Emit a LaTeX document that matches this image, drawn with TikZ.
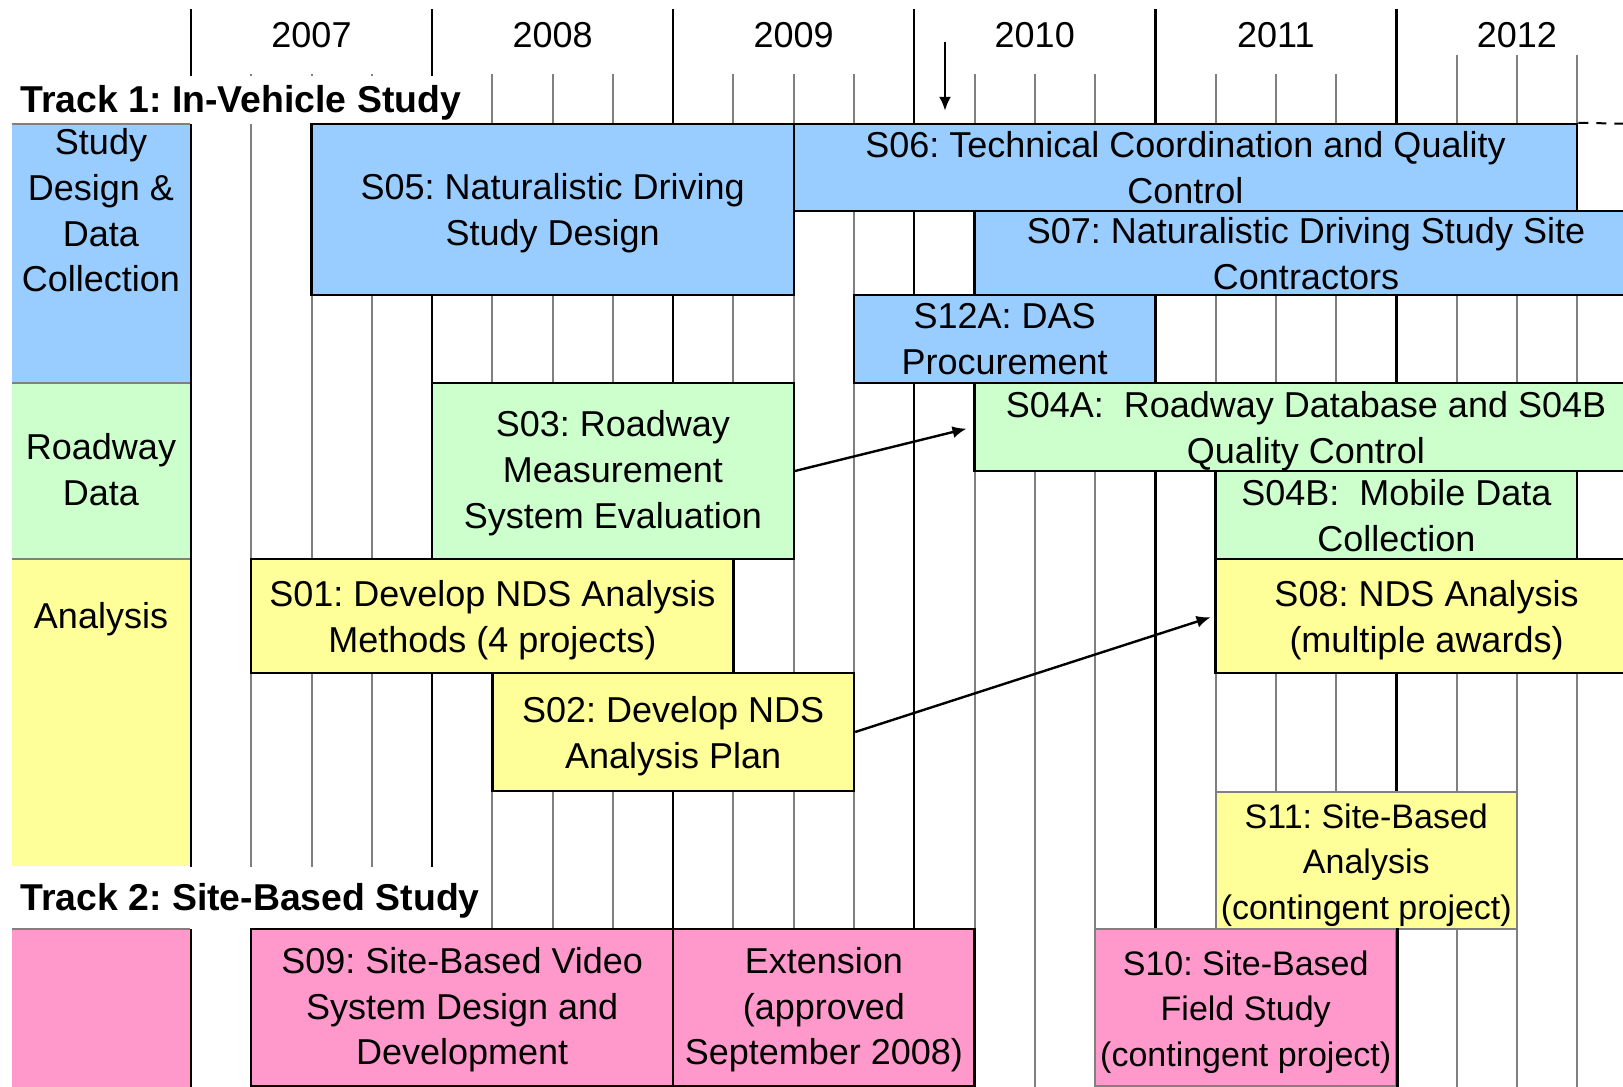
\documentclass[tikz,border=0pt]{standalone}
\usepackage{fontspec}
\setmainfont{Liberation Sans}
\usetikzlibrary{fit,arrows.meta}
\definecolor{studyblue}{RGB}{153,204,255}
\definecolor{roadgreen}{RGB}{204,255,204}
\definecolor{analysisyellow}{RGB}{255,255,153}
\definecolor{sitepink}{RGB}{255,153,204}
\newcommand{\qx}[1]{191+60.27*#1}
\begin{document}
\frenchspacing
\begin{tikzpicture}[x=0.5pt, y=-0.5pt, font=\fontsize{18}{22.9}\selectfont,
		year/.style = {line width=1.2pt},
		quarter/.style = {line width=1pt, black!50},
		task/.style = {draw, line width=1.2pt, inner sep=0pt},
		contingent/.style = {draw=black!50, line width=1pt, inner sep=0pt},
		cat/.style = {inner sep=0pt},
		label/.style = {inner sep=0pt, align=center},
		twolines/.style = {label, anchor=north, yshift=18pt},
		threelines/.style = {label, anchor=north, yshift=30.4pt},
		threesmall/.style = {label, anchor=north, yshift=28.6pt, font=\fontsize{17}{22.75}\selectfont},
		track/.style = {fill=white, anchor=base west, inner xsep=5pt, inner ysep=0pt, font=\fontsize{18.7}{22.9}\selectfont\bfseries},
		link/.style = {-{Latex[length=7pt, width=6pt]}, line width=1.2pt}]
	\useasboundingbox (0,0) rectangle (1623,1087);
	\clip (0,0) rectangle (1623,1087);
	\fill[white] (0,0) rectangle (1623,1087);
	\foreach \k in {1,2,3,5,6,7,9,10,11,13,14,15,17,18,19}
		\draw[quarter] ({\qx{\k}},74) -- ({\qx{\k}},1087);
	\foreach \k in {21,22,23}
		\draw[quarter] ({\qx{\k}},55) -- ({\qx{\k}},1087);
	\foreach \k/\yr in {0/2007,4/2008,8/2009,12/2010,16/2011,20/2012} {
		\draw[year] ({\qx{\k}},9) -- ({\qx{\k}},1087);
		\node[anchor=base] (y\yr) at ({\qx{\k}+120.5},47) {\yr};
	}
	\node[track, text height=18pt, text depth=6pt] (track1) at (10,112) {Track 1: In-Vehicle Study};
	\node[track, text height=21.5pt, text depth=9.5pt] (track2) at (10,910) {Track 2: Site-Based Study};

	\node[cat, fill=studyblue, fit={(12,124) (190,383)}] (design) {};
	\node[cat, fill=roadgreen, fit={(12,383) (190,559)}] (roadway) {};
	\node[cat, fill=analysisyellow, fit={(12,559) (190,866)}] (analysis) {};
	\node[cat, fill=sitepink, fit={(12,929) (190,1087)}] (site) {};
	\foreach \c in {design,roadway,analysis,site}
		\draw[quarter] (\c.north west) -- (\c.north east);
	\node[label, anchor=north] (designtxt) at (101,128) {Study\\Design \&\\Data\\Collection};
	\node[twolines, yshift=0.95pt] (roadwaytxt) at (roadway.center) {Roadway\\Data};
	\node[label, anchor=north] (analysistxt) at (101,602) {Analysis};

	\node[task, fill=studyblue, fit={({\qx{2}},124) ({\qx{10}},295)}] (s05) {};
	\node[task, fill=studyblue, fit={({\qx{10}},124) ({\qx{23}},211)}] (s06) {};
	\node[task, fill=studyblue, fit={({\qx{13}},211) ({\qx{24}},295)}] (s07) {};
	\node[task, fill=studyblue, fit={({\qx{11}},295) ({\qx{16}},383)}] (s12a) {};
	\node[task, fill=roadgreen, fit={({\qx{4}},383) ({\qx{10}},559)}] (s03) {};
	\node[task, fill=roadgreen, fit={({\qx{13}},383) ({\qx{24}},471)}] (s04a) {};
	\node[task, fill=roadgreen, fit={({\qx{17}},471) ({\qx{23}},559)}] (s04b) {};
	\node[task, fill=analysisyellow, fit={({\qx{1}},559) ({\qx{9}},673)}] (s01) {};
	\node[task, fill=analysisyellow, fit={({\qx{17}},559) ({\qx{24}},673)}] (s08) {};
	\node[task, fill=analysisyellow, fit={({\qx{5}},673) ({\qx{11}},791)}] (s02) {};
	\node[contingent, fill=analysisyellow, fit={({\qx{17}},792) ({\qx{22}},929)}] (s11) {};
	\node[task, fill=sitepink, fit={({\qx{1}},929) ({\qx{8}},1086)}] (s09) {};
	\node[task, fill=sitepink, fit={({\qx{8}},929) ({\qx{13}},1086)}] (ext) {};
	\node[contingent, fill=sitepink, fit={({\qx{15}},929) ({\qx{20}},1086)}] (s10) {};
	\draw[year] (s10.north east) -- (s10.south east);

	\node[twolines] (s05txt) at (s05.center) {S05: Naturalistic Driving\\Study Design};
	\node[twolines] (s06txt) at (s06.center) {S06: Technical Coordination and Quality\\Control};
	\node[twolines] (s07txt) at (s07.center) {S07: Naturalistic Driving Study Site\\Contractors};
	\node[twolines] (s12atxt) at (s12a.center) {S12A: DAS\\Procurement};
	\node[threelines] (s03txt) at (s03.center) {S03: Roadway\\Measurement\\System Evaluation};
	\node[twolines] (s04atxt) at (s04a.center) {S04A:~ Roadway Database and S04B\\Quality Control};
	\node[twolines] (s04btxt) at (s04b.center) {S04B:~ Mobile Data\\Collection};
	\node[twolines] (s01txt) at (s01.center) {S01: Develop NDS Analysis\\Methods (4 projects)};
	\node[twolines] (s08txt) at (s08.center) {S08: NDS Analysis\\(multiple awards)};
	\node[twolines] (s02txt) at (s02.center) {S02: Develop NDS\\Analysis Plan};
	\node[threesmall] (s11txt) at (s11.center) {S11: Site-Based\\Analysis\\(contingent project)};
	\node[threelines] (s09txt) at (s09.center) {S09: Site-Based Video\\System Design and\\Development};
	\node[threelines] (exttxt) at (ext.center) {Extension\\(approved\\September 2008)};
	\node[threesmall] (s10txt) at (s10.center) {S10: Site-Based\\Field Study\\(contingent project)};

	\coordinate (edge) at (1640,124);
	\draw[dash pattern=on 5pt off 4pt, line width=1pt] (s06.north east) -- (edge);
	\coordinate (start) at (945,42);
	\draw[link, shorten >=6pt] (start) -- (start |- s06.north);
	\draw[link, shorten >=3.5pt] (s03.east) -- (s04a.west);
	\draw[link, shorten >=2pt] (s02.east) -- (s08.west);
\end{tikzpicture}
\end{document}
